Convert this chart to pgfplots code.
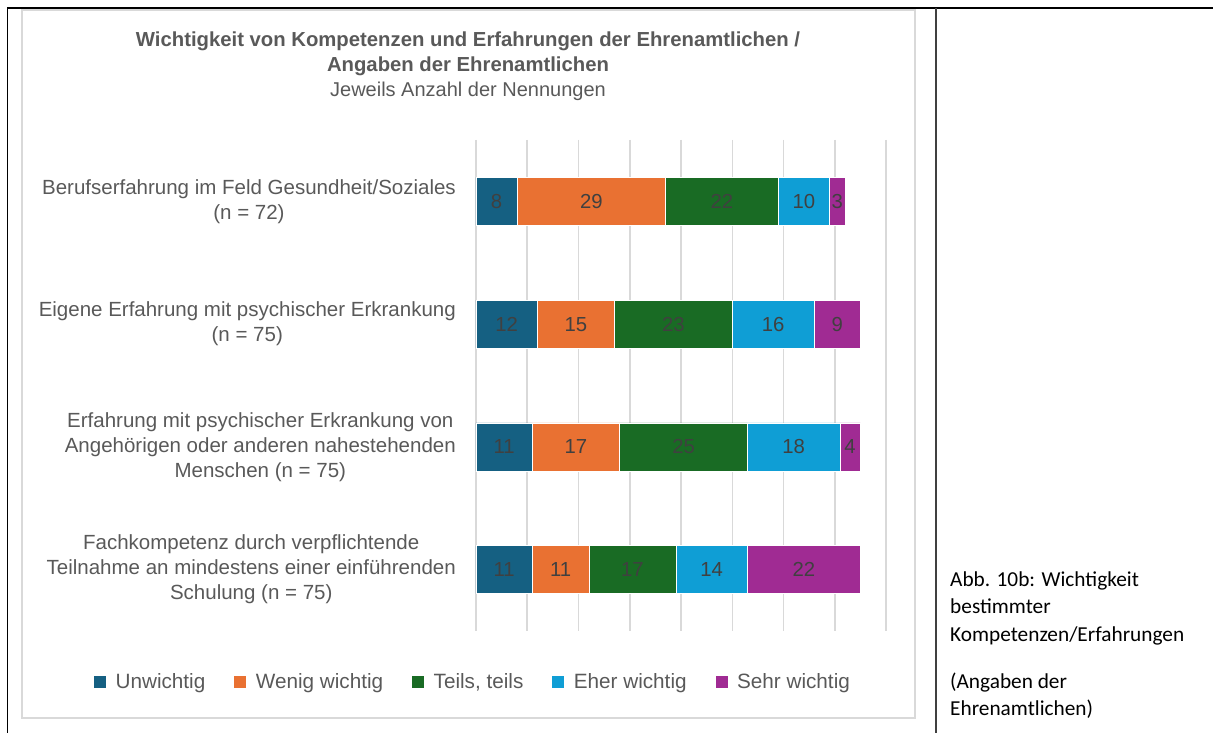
\documentclass[border=0pt]{standalone}
\usepackage{pgfplots}
\pgfplotsset{compat=1.18}
\usepackage{pgfplotstable}
\usepackage{fontspec}
\setmainfont{Liberation Sans}
\newfontfamily\capfont{Carlito}

\definecolor{cUn}{HTML}{156082}
\definecolor{cWe}{HTML}{E97132}
\definecolor{cTe}{HTML}{196B24}
\definecolor{cEh}{HTML}{0F9ED5}
\definecolor{cSe}{HTML}{A02B93}
\definecolor{txt}{HTML}{595959}
\definecolor{lbl}{HTML}{404040}
\definecolor{boxgray}{HTML}{D9D9D9}

% Anzahl der Nennungen je Aussage (0 = oben)
\pgfplotstableread{
cat u  w  t  e  s
0   8  29 22 10 3
1   12 15 23 16 9
2   11 17 25 18 4
3   11 11 17 14 22
}\data

\begin{document}
\begin{tikzpicture}
\useasboundingbox (0,0) rectangle (1213pt,733pt);
% Tabellenlinien
\draw[line width=2pt] (7pt,725pt) -- (1213pt,725pt);
\draw[line width=1.5pt] (7.5pt,725pt) -- (7.5pt,0pt);
\draw[line width=2pt, black!75] (936pt,725pt) -- (936pt,0pt);
% Diagrammrahmen
\draw[boxgray, line width=1.5pt] (22pt,15pt) rectangle (915pt,723pt);

% Titel
\node[anchor=mid, text=txt, font=\fontsize{20.3}{24}\selectfont\bfseries] at (468pt,689pt)
  {Wichtigkeit von Kompetenzen und Erfahrungen der Ehrenamtlichen /};
\node[anchor=mid, text=txt, font=\fontsize{20.3}{24}\selectfont\bfseries] at (468pt,664pt)
  {Angaben der Ehrenamtlichen};
\node[anchor=mid, text=txt, font=\fontsize{20}{24}\selectfont] at (468pt,639pt)
  {Jeweils Anzahl der Nennungen};

\begin{axis}[
  at={(476pt,102pt)}, anchor=south west,
  scale only axis, width=410pt, height=491pt,
  xbar stacked, bar width=48pt,
  xmin=0, xmax=80, ymin=-0.5, ymax=3.5, y dir=reverse,
  xtick={0,10,...,80}, xticklabels={},
  xmajorgrids, grid style={boxgray, line width=1.5pt},
  axis line style={draw=none}, major tick length=0pt,
  ytick={0,1,2,3},
  yticklabels={
    {Berufserfahrung im Feld Gesundheit/Soziales\\(n = 72)},
    {Eigene Erfahrung mit psychischer Erkrankung\\(n = 75)},
    {Erfahrung mit psychischer Erkrankung von\\Angehörigen oder anderen nahestehenden\\Menschen (n = 75)},
    {Fachkompetenz durch verpflichtende\\Teilnahme an mindestens einer einführenden\\Schulung (n = 75)}},
  yticklabel style={align=center, text=txt, inner sep=0pt, xshift=-20pt,
    font=\fontsize{20.5}{25}\selectfont},
  point meta=explicit,
  /pgf/number format/assume math mode=true,
  nodes near coords={\pgfmathprintnumber{\pgfplotspointmeta}},
  every node near coord/.append style={anchor=center, text=lbl,
    font=\fontsize{20.3}{24}\selectfont},
  every axis plot/.append style={draw=white, line width=0.4pt},
  legend columns=5,
  legend style={at={(-0.0073,-0.104)}, anchor=center, draw=none, fill=none,
    font=\fontsize{20.7}{24}\selectfont, text=txt,
    /tikz/every odd column/.append style={column sep=7.5pt},
    /tikz/every even column/.append style={column sep=27pt}},
  legend image code/.code={\fill[#1,draw=none] (0pt,-6pt) rectangle (12pt,6pt);},
]
\addplot[fill=cUn] table[x=u,y=cat,meta=u] {\data};
\addplot[fill=cWe] table[x=w,y=cat,meta=w] {\data};
\addplot[fill=cTe] table[x=t,y=cat,meta=t] {\data};
\addplot[fill=cEh] table[x=e,y=cat,meta=e] {\data};
\addplot[fill=cSe] table[x=s,y=cat,meta=s] {\data};
\legend{Unwichtig, Wenig wichtig, {Teils, teils}, Eher wichtig, Sehr wichtig}
\end{axis}

% Bildunterschrift
\begin{scope}[every node/.style={anchor=mid west, inner sep=0pt, font=\capfont\fontsize{21.3}{24}\selectfont}]
\node at (950pt,149pt) {Abb. 10b: Wichtigkeit};
\node at (950pt,122pt) {bestimmter};
\node at (950pt,94pt) {Kompetenzen/Erfahrungen};
\node at (950pt,47pt) {(Angaben der};
\node at (950pt,20pt) {Ehrenamtlichen)};
\end{scope}
\end{tikzpicture}
\end{document}
